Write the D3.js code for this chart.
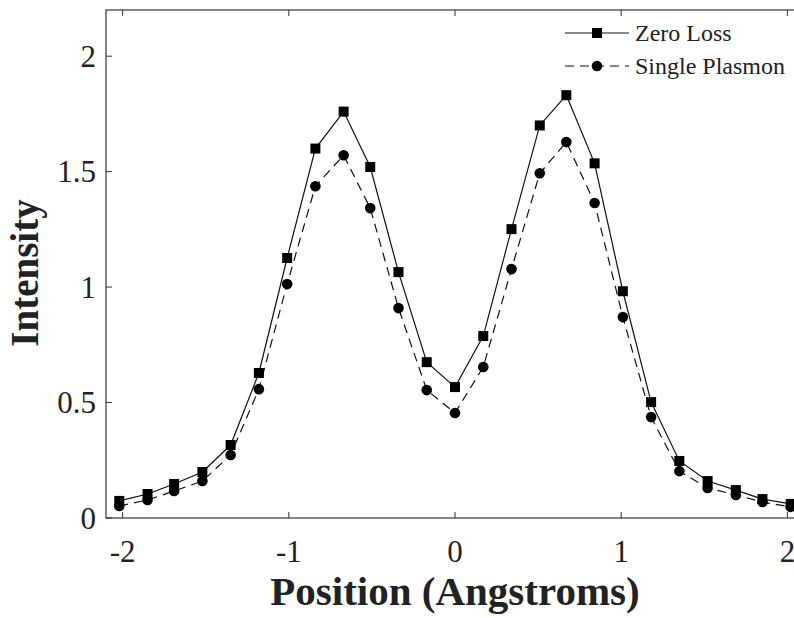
<!DOCTYPE html>
<html>
<head>
<meta charset="utf-8">
<script src="https://cdn.jsdelivr.net/npm/d3@7"></script>
<style>
  body { margin: 0; background: #fff; }
  text { font-family: "Liberation Serif", "Times New Roman", serif; fill: #222; }
</style>
</head>
<body>
<div id="chart"></div>
<script>
// positions (Angstroms)
const positions = [-2.02, -1.85, -1.69, -1.52, -1.35, -1.18, -1.01, -0.84, -0.67, -0.51, -0.34, -0.17,
    0, 0.17, 0.34, 0.51, 0.67, 0.84, 1.01, 1.18, 1.35, 1.52, 1.69, 1.85, 2.02];
const zeroLoss = [0.074, 0.104, 0.147, 0.199, 0.316, 0.628, 1.126, 1.60, 1.76, 1.52, 1.065, 0.675,
    0.567, 0.788, 1.251, 1.70, 1.831, 1.536, 0.982, 0.502, 0.247, 0.160, 0.121, 0.082, 0.061];
const singlePlasmon = [0.052, 0.078, 0.117, 0.160, 0.273, 0.558, 1.013, 1.437, 1.571, 1.342, 0.909, 0.554,
    0.455, 0.654, 1.078, 1.493, 1.628, 1.364, 0.870, 0.437, 0.203, 0.130, 0.100, 0.069, 0.048];
const xTicks = [-2, -1, 0, 1, 2];
const yTicks = [0, 0.5, 1, 1.5, 2];
const seriesNames = ["Zero Loss", "Single Plasmon"];

const width = 794, height = 618;

const svg = d3.select("#chart").append("svg")
    .attr("width", width)
    .attr("height", height);

const x = d3.scaleLinear().domain([-2.1, 2.1]).range([106, 804]);
const y = d3.scaleLinear().domain([0, 2.2]).range([518, 10]);

// axis box, MATLAB style with inward ticks
const tickLen = 6;
const axisColor = "#333";

svg.append("rect")
    .attr("x", x(-2.1)).attr("y", y(2.2))
    .attr("width", x(2.1) - x(-2.1))
    .attr("height", y(0) - y(2.2))
    .attr("fill", "none")
    .attr("stroke", axisColor)
    .attr("stroke-width", 1.2);

// bottom + top ticks
xTicks.forEach(t => {
    svg.append("line")
        .attr("x1", x(t)).attr("x2", x(t))
        .attr("y1", y(0)).attr("y2", y(0) - tickLen)
        .attr("stroke", axisColor);
    svg.append("line")
        .attr("x1", x(t)).attr("x2", x(t))
        .attr("y1", y(2.2)).attr("y2", y(2.2) + tickLen)
        .attr("stroke", axisColor);
});

svg.selectAll(".xlabel")
    .data(xTicks)
    .enter().append("text")
    .attr("class", "xlabel")
    .attr("x", d => x(d))
    .attr("y", 562)
    .attr("text-anchor", "middle")
    .attr("font-size", 31)
    .text(d => d < 0 ? "-" + Math.abs(d) : d);

// left ticks
yTicks.forEach(t => {
    svg.append("line")
        .attr("x1", x(-2.1)).attr("x2", x(-2.1) + tickLen)
        .attr("y1", y(t)).attr("y2", y(t))
        .attr("stroke", axisColor);
});

svg.selectAll(".ylabel")
    .data(yTicks)
    .enter().append("text")
    .attr("class", "ylabel")
    .attr("x", 96)
    .attr("y", d => y(d))
    .attr("dy", "0.35em")
    .attr("text-anchor", "end")
    .attr("font-size", 31)
    .text(d => d);

// axis titles
svg.append("text")
    .attr("x", x(0))
    .attr("y", 605)
    .attr("text-anchor", "middle")
    .attr("font-size", 41)
    .attr("font-weight", "bold")
    .text("Position (Angstroms)");

svg.append("text")
    .attr("transform", "translate(38, 273) rotate(-90)")
    .attr("text-anchor", "middle")
    .attr("font-size", 39)
    .attr("font-weight", "bold")
    .text("Intensity");

// series
const zlData = positions.map((p, i) => ({ x: p, y: zeroLoss[i] }));
const spData = positions.map((p, i) => ({ x: p, y: singlePlasmon[i] }));

const line = d3.line().x(d => x(d.x)).y(d => y(d.y));

svg.append("path")
    .datum(zlData)
    .attr("d", line)
    .attr("fill", "none")
    .attr("stroke", "#111")
    .attr("stroke-width", 1.2);

svg.append("path")
    .datum(spData)
    .attr("d", line)
    .attr("fill", "none")
    .attr("stroke", "#111")
    .attr("stroke-width", 1.2)
    .attr("stroke-dasharray", "9,6");

const sq = 10;
svg.selectAll(".sq")
    .data(zlData)
    .enter().append("rect")
    .attr("class", "sq")
    .attr("x", d => x(d.x) - sq / 2)
    .attr("y", d => y(d.y) - sq / 2)
    .attr("width", sq)
    .attr("height", sq)
    .attr("fill", "#000");

svg.selectAll(".dot")
    .data(spData)
    .enter().append("circle")
    .attr("class", "dot")
    .attr("cx", d => x(d.x))
    .attr("cy", d => y(d.y))
    .attr("r", 5.3)
    .attr("fill", "#000");

// legend
const legend = svg.append("g");
const legY = [33, 66];

seriesNames.forEach((name, i) => {
    const g = legend.append("g").attr("transform", `translate(0, ${legY[i]})`);
    g.append("line")
        .attr("x1", 565).attr("x2", 629)
        .attr("y1", 0).attr("y2", 0)
        .attr("stroke", "#111")
        .attr("stroke-width", 1.2)
        .attr("stroke-dasharray", i === 1 ? "9,6" : null);
    if (i === 0) {
        g.append("rect")
            .attr("x", 597 - sq / 2).attr("y", -sq / 2)
            .attr("width", sq).attr("height", sq)
            .attr("fill", "#000");
    } else {
        g.append("circle")
            .attr("cx", 597).attr("cy", 0).attr("r", 5.3)
            .attr("fill", "#000");
    }
    g.append("text")
        .attr("x", 635)
        .attr("y", 0)
        .attr("dy", "0.35em")
        .attr("font-size", 24)
        .text(name);
});
</script>
</body>
</html>
